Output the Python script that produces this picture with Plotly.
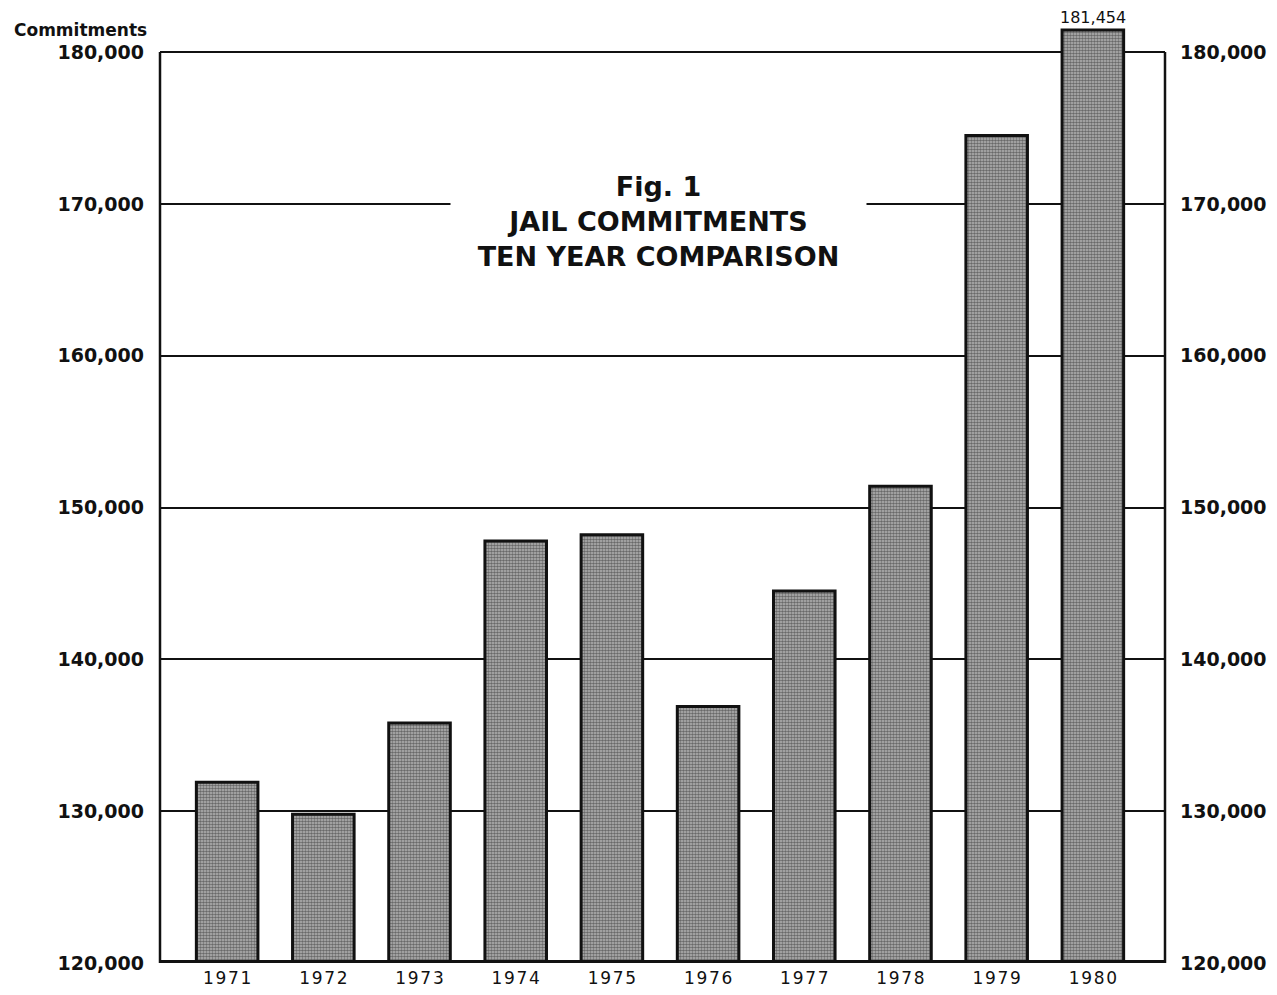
import plotly.graph_objects as go

# values
years = [1971, 1972, 1973, 1974, 1975, 1976, 1977, 1978, 1979, 1980]
commitments = [131900, 129800, 135800, 147800, 148200, 136900, 144500, 151400, 174500, 181454]
y_ticks = [120000, 130000, 140000, 150000, 160000, 170000, 180000]
y_tick_text = ["120,000", "130,000", "140,000", "150,000", "160,000", "170,000", "180,000"]

FONT = "DejaVu Sans, Arial, sans-serif"
HAIR = "\u200a"

fig = go.Figure()
fig.add_trace(go.Bar(
    x=years, y=commitments, width=0.64,
    marker=dict(color="#808080",
                line=dict(color="#111", width=3),
                pattern=dict(shape=".", fgcolor="#1a1a1a", bgcolor="#b8b8b8",
                             size=3, solidity=0.6)),
    showlegend=False, hoverinfo="x+y",
))
# invisible trace to carry the right axis
fig.add_trace(go.Scatter(x=[years[0]], y=[y_ticks[0]], yaxis="y2",
                         mode="markers", marker=dict(opacity=0),
                         showlegend=False, hoverinfo="skip"))

# page body adds an 8px offset, margins compensate for it
y_range = [120000, 181780]
fig.update_layout(
    width=1277, height=995,
    margin=dict(l=152, r=120, t=17, b=40),
    plot_bgcolor="white", paper_bgcolor="white",
    font=dict(family=FONT, color="#111"),
    xaxis=dict(range=[1970.302, 1980.75], tickvals=years,
               ticktext=[HAIR.join(str(y)) for y in years], showgrid=False,
               zeroline=False, showline=False,
               tickfont=dict(size=17), ticklabelstandoff=3),
    yaxis=dict(range=y_range, tickvals=y_ticks, ticktext=y_tick_text,
               showgrid=True, gridcolor="#111", gridwidth=2,
               zeroline=False, showline=False,
               tickfont=dict(size=19, weight="bold"), ticklabelstandoff=15),
    yaxis2=dict(range=y_range, tickvals=y_ticks, ticktext=y_tick_text,
                overlaying="y", side="right", showgrid=False,
                zeroline=False, showline=False,
                tickfont=dict(size=19, weight="bold"), ticklabelstandoff=14),
)

# frame: left/right sides stop at the 180,000 line, heavy base
fig.add_shape(type="line", xref="paper", yref="y", x0=0, x1=0,
              y0=120000, y1=180000, line=dict(color="#111", width=2.5))
fig.add_shape(type="line", xref="paper", yref="y", x0=1, x1=1,
              y0=120000, y1=180000, line=dict(color="#111", width=2.5))
fig.add_shape(type="line", xref="paper", yref="y", x0=0, x1=1,
              y0=120000, y1=120000, line=dict(color="#111", width=6))

fig.add_annotation(xref="paper", yref="y", x=0.496, y=170000, yshift=-18,
                   text="Fig. 1<br>JAIL COMMITMENTS<br>TEN YEAR COMPARISON",
                   showarrow=False, bgcolor="white", width=415, borderpad=0,
                   font=dict(size=27, color="#111", weight="bold"), align="center")
fig.add_annotation(xref="paper", yref="y", x=-0.011, y=180000,
                   yanchor="bottom", xanchor="right", yshift=10,
                   text="Commitments", showarrow=False,
                   font=dict(size=17, color="#111", weight="bold"))
fig.add_annotation(x=years[-1], y=commitments[-1], yanchor="bottom",
                   text=f"{commitments[-1]:,}", showarrow=False, yshift=1,
                   font=dict(size=16, color="#111"))

fig.write_html("out.html")
